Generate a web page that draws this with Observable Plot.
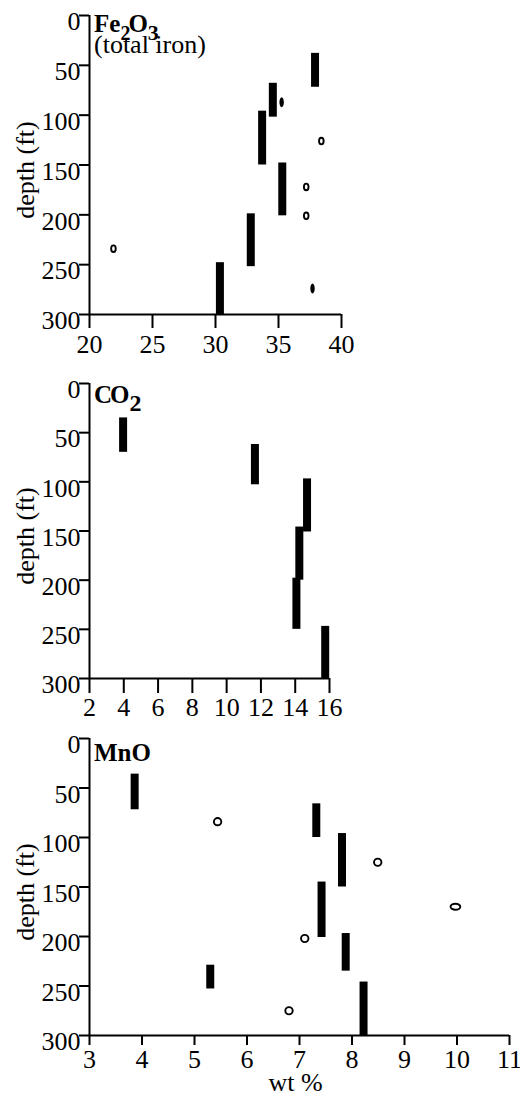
<!DOCTYPE html>
<html><head><meta charset="utf-8">
<script src="https://cdn.jsdelivr.net/npm/d3@7"></script>
<script src="https://cdn.jsdelivr.net/npm/@observablehq/plot@0.6"></script>
<style>
html,body{margin:0;padding:0;background:#fff;}
body{width:520px;height:1096px;overflow:hidden;}
svg{display:block;}
</style></head><body><div id="chart"></div>
<script>
// shared depth axis
const depthTicks = [0, 50, 100, 150, 200, 250, 300];
const depthLabel = "depth (ft)";
const xLabel = "wt %";

// Fe2O3 (total iron)
const feTicks = [20, 25, 30, 35, 40];
const feBarX = [37.9, 34.55, 33.7, 35.3, 32.8, 30.35];
const feBarTop = [38, 68, 96, 148, 199, 248];
const feBarBottom = [72, 102, 150, 201, 252, 300];
const feOpenX = [38.4, 37.2, 37.2, 21.9];
const feOpenDepth = [126, 172, 201, 234];
const feSolidX = [35.25, 37.7];
const feSolidDepth = [87, 274];

// CO2
const co2Ticks = [2, 4, 6, 8, 10, 12, 14, 16];
const co2BarX = [3.96, 11.65, 14.69, 14.24, 14.07, 15.75];
const co2BarTop = [35, 62, 97, 146, 198, 247];
const co2BarBottom = [70, 103, 151, 200, 250, 300];

// MnO
const mnoTicks = [3, 4, 5, 6, 7, 8, 9, 10, 11];
const mnoBarX = [3.86, 7.32, 7.81, 7.42, 7.88, 5.30, 8.22];
const mnoBarTop = [36, 66, 96, 145, 197, 229, 246];
const mnoBarBottom = [72, 100, 150, 201, 235, 253, 300];
const mnoOpenX = [5.44, 8.49, 7.1, 6.8];
const mnoOpenDepth = [84, 125, 202, 275];
const mnoWideX = [9.97];
const mnoWideDepth = [170];

const FONT = "Liberation Serif, Times New Roman, Times, serif";

function ellipseSymbol(rx, ry) {
  const k = 0.5523;
  return {draw(ctx) {
    ctx.moveTo(rx, 0);
    ctx.bezierCurveTo(rx, k * ry, k * rx, ry, 0, ry);
    ctx.bezierCurveTo(-k * rx, ry, -rx, k * ry, -rx, 0);
    ctx.bezierCurveTo(-rx, -k * ry, -k * rx, -ry, 0, -ry);
    ctx.bezierCurveTo(k * rx, -ry, rx, -k * ry, rx, 0);
    ctx.closePath();
  }};
}
const idx = a => a.map((_, i) => i);

function bars(xs, tops, bottoms) {
  return Plot.ruleX(idx(xs), {x: i => xs[i], y1: i => tops[i], y2: i => bottoms[i], stroke: "black", strokeWidth: 8});
}
function openDots(xs, ds, rx, ry) {
  return Plot.dot(idx(xs), {x: i => xs[i], y: i => ds[i], symbol: ellipseSymbol(rx, ry), fill: "white", stroke: "black", strokeWidth: 1.9});
}
function solidDots(xs, ds, rx, ry) {
  return Plot.dot(idx(xs), {x: i => xs[i], y: i => ds[i], symbol: ellipseSymbol(rx, ry), fill: "black", stroke: "none"});
}

function panel(o) {
  const chart = Plot.plot({
    width: 520, height: o.height,
    marginLeft: 89, marginRight: o.marginRight, marginTop: o.marginTop, marginBottom: o.marginBottom,
    style: {fontFamily: FONT, fontSize: "26px", background: "white", color: "black", overflow: "visible"},
    x: {domain: o.xDomain},
    y: {domain: [0, 300], reverse: true},
    marks: [
      Plot.ruleX([o.xDomain[0]], {y1: 0, y2: 300, stroke: "black", strokeWidth: 2}),
      Plot.ruleY([300], {stroke: "black", strokeWidth: 2}),
      Plot.axisX(o.xTicks, {tickSize: o.xTickSize, fill: "none", strokeWidth: 2, label: null}),
      Plot.axisX(o.xTicks, {tickSize: 0, tickPadding: o.xTickSize + o.xTickPadding, fontSize: 26, fontFamily: FONT, fontVariant: "normal", label: null}),
      Plot.axisY(depthTicks, {tickSize: 10, fill: "none", strokeWidth: 2, label: null}),
      Plot.axisY(depthTicks, {tickSize: 0, tickPadding: 9, dy: 6.5, fontSize: 26, fontFamily: FONT, fontVariant: "normal", label: null}),
      Plot.text([depthLabel], {text: d => d, frameAnchor: "left", rotate: -90, dx: -64, dy: 5, fontSize: 26, fontFamily: FONT, textAnchor: "middle", lineAnchor: "middle"}),
      ...(o.xLabel ? [Plot.text([o.xLabel], {text: d => d, frameAnchor: "bottom", dx: -4, dy: 47, fontSize: 26, fontFamily: FONT, textAnchor: "middle", lineAnchor: "middle"})] : []),
      ...o.marks
    ]
  });
  // title (chemical formula with subscripts)
  const x0 = chart.scale("x").apply(o.xDomain[0]) + 5;
  const y0 = chart.scale("y").apply(0);
  const svg = d3.select(chart);
  const t = svg.append("text")
    .attr("x", x0).attr("y", y0 + o.titleDy).attr("text-anchor", "start")
    .attr("font-family", FONT).attr("font-weight", "bold").attr("font-size", 25).attr("fill", "black");
  o.title.forEach(p => {
    const ts = t.append("tspan").text(p.t);
    if (p.sub) ts.attr("dy", 8).attr("font-size", p.size || 21);
    else if (p.after) ts.attr("dy", -8);
    if (p.dx) ts.attr("dx", p.dx);
  });
  if (o.subtitle) {
    svg.append("text").attr("x", x0).attr("y", y0 + o.subtitleDy).attr("text-anchor", "start")
      .attr("font-family", FONT).attr("font-size", 26).attr("fill", "black").text(o.subtitle);
  }
  return chart;
}

const root = document.getElementById("chart");

root.append(panel({
  height: 360, marginTop: 15, marginBottom: 46, marginRight: 179,
  xDomain: [20, 40], xTicks: feTicks, xTickSize: 14, xTickPadding: 6,
  title: [{t: "Fe"}, {t: "2", sub: true, size: 20}, {t: "O", after: true, dx: -2}, {t: "3", sub: true, size: 22}],
  titleDy: 16.5, subtitle: "(total iron)", subtitleDy: 38,
  marks: [
    bars(feBarX, feBarTop, feBarBottom),
    openDots(feOpenX, feOpenDepth, 2.3, 3.3),
    solidDots(feSolidX, feSolidDepth, 2.2, 5)
  ]
}));

root.append(panel({
  height: 355, marginTop: 23, marginBottom: 37, marginRight: 191,
  xDomain: [2, 16], xTicks: co2Ticks, xTickSize: 15, xTickPadding: 4,
  title: [{t: "C"}, {t: "O", dx: -2}, {t: "2", sub: true, size: 24}],
  titleDy: 20,
  marks: [
    bars(co2BarX, co2BarTop, co2BarBottom)
  ]
}));

root.append(panel({
  height: 381, marginTop: 23, marginBottom: 61, marginRight: 11,
  xDomain: [3, 11], xTicks: mnoTicks, xTickSize: 10, xTickPadding: 4.5,
  title: [{t: "MnO"}],
  titleDy: 22.7,
  xLabel: xLabel,
  marks: [
    bars(mnoBarX, mnoBarTop, mnoBarBottom),
    openDots(mnoOpenX, mnoOpenDepth, 3.7, 3.6),
    openDots(mnoWideX, mnoWideDepth, 4.9, 3)
  ]
}));
</script></body></html>
